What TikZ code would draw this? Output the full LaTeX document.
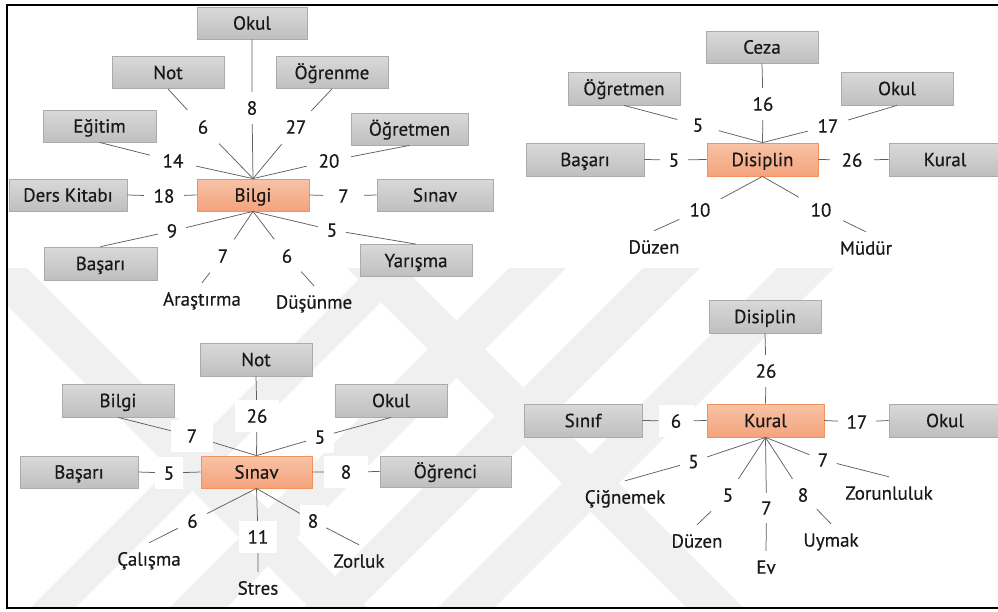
\documentclass[tikz,border=0pt]{standalone}
\usepackage{fontspec}
\setmainfont{PT Sans}[FakeBold=0.5]
\definecolor{boxtop}{HTML}{D9D9D9}
\definecolor{boxbot}{HTML}{BFBFBF}
\definecolor{boxline}{HTML}{ABABAB}
\definecolor{hubtop}{HTML}{F7C3A7}
\definecolor{hubbot}{HTML}{F4A37C}
\definecolor{hubline}{HTML}{F3925C}
\definecolor{linkgray}{HTML}{606060}
\definecolor{wm}{HTML}{F0F0F0}
\tikzset{
  every node/.style={font=\fontsize{19}{22}\selectfont, text=black!90, inner sep=0pt,
    text height=13.3pt, text depth=0pt},
  box/.style={draw=boxline, line width=0.8pt, top color=boxtop, bottom color=boxbot,
    minimum width=112pt, minimum height=32pt},
  hub/.style={draw=hubline, line width=0.8pt, top color=hubtop, bottom color=hubbot,
    minimum width=112pt, minimum height=32pt},
  num/.style={fill=white, minimum width=28pt, minimum height=32pt},
  word/.style={minimum height=32pt},
  link/.style={draw=linkgray, line width=0.75pt},
}
\begin{document}
\begin{tikzpicture}[x=1pt, y=-1pt]
\useasboundingbox (0,0) rectangle (998,611);
\clip (0,0) rectangle (998,611);

% faint striped watermark in the lower half
\begin{scope}
  \clip (7,268) rectangle (998,608);
  % stripes falling to the left
  \foreach \s/\w in {370/45,509/57,643/57,777/57}
    \fill[wm] (\s,268) -- (\s+\w,268) -- (\s+\w-343,611) -- (\s-343,611) -- cycle;
  % stripes falling to the right
  \foreach \s in {-30,347}
    \fill[wm] (\s,268) -- (\s+57,268) -- (\s+57+343,611) -- (\s+343,611) -- cycle;
\end{scope}

% frame
\draw[line width=2pt] (1010,5) -- (7,5) -- (7,608) -- (1010,608);

% ---------- Bilgi ----------
\node[hub] (bilgiA) at (253,195) {Bilgi};
\node[box, minimum width=110pt] (okulA) at (252,23) {Okul};
\node[box] (notA) at (168,72.5) {Not};
\node[box] (ogrenmeA) at (332,72.5) {Öğrenme};
\node[box, minimum width=113pt] (egitimA) at (99.5,126) {Eğitim};
\node[box, minimum width=117pt] (ogretmenA) at (409.5,129) {Öğretmen};
\node[box, minimum width=118pt] (dersA) at (68,195) {Ders Kitabı};
\node[box, minimum width=116pt] (sinavA) at (435,195) {Sınav};
\node[box, minimum width=113pt, minimum height=33pt] (basariA) at (100.5,263.5) {Başarı};
\node[box] (yarismaA) at (416,260.5) {Yarışma};
\node[word] (arastirmaA) at (202,299) {Araştırma};
\node[word] (dusunmeA) at (314,302) {Düşünme};

\node[num, minimum width=30pt] (a1) at (252,108) {8};
\node[num, minimum width=32pt, minimum height=34pt] (a2) at (203,127) {6};
\node[num, minimum width=30pt, minimum height=34pt] (a3) at (296,127) {27};
\node[num, minimum width=46pt] (a4) at (173,161) {14};
\node[num, minimum width=44pt] (a5) at (329,161) {20};
\node[num, minimum width=40pt] (a6) at (164,196) {18};
\node[num, minimum width=41pt] (a7) at (343.5,196) {7};
\node[num] (a8) at (172,231) {9};
\node[num] (a9) at (332,230) {5};
\node[num, minimum height=33pt] (a10) at (223,256) {7};
\node[num, minimum height=33pt] (a11) at (287,256) {6};

\draw[link] (okulA.south) -- (a1) -- (bilgiA.north);
\draw[link] (notA.south) -- (a2) -- (bilgiA.north);
\draw[link] (ogrenmeA.south) -- (a3) -- (bilgiA.north);
\draw[link] (egitimA.south) -- (a4) -- (bilgiA.north);
\draw[link] (ogretmenA.south) -- (a5) -- (bilgiA.north);
\draw[link] (dersA.east) -- (a6) -- (bilgiA.west);
\draw[link] (sinavA.west) -- (a7) -- (bilgiA.east);
\draw[link] (basariA.north) -- (a8) -- (bilgiA.south);
\draw[link] (yarismaA.north) -- (a9) -- (bilgiA.south);
\draw[link] (arastirmaA.north) -- (a10) -- (bilgiA.south);
\draw[link] (dusunmeA.north) -- (a11) -- (bilgiA.south);

% ---------- Disiplin ----------
\node[hub, minimum width=111pt, minimum height=33pt] (disiplinB) at (762.5,159.5) {Disiplin};
\node[box] (cezaB) at (762,47) {Ceza};
\node[box, minimum height=33pt] (ogretmenB) at (624,88.5) {Öğretmen};
\node[box, minimum height=33pt] (okulB) at (897,88.5) {Okul};
\node[box, minimum width=118pt, minimum height=33pt] (basariB) at (585,159.5) {Başarı};
\node[box, minimum height=33pt] (kuralB) at (945,159.5) {Kural};
\node[word] (duzenB) at (654,247) {Düzen};
\node[word] (mudurB) at (866,248) {Müdür};

\node[num, minimum width=30pt] (b1) at (763,104) {16};
\node[num, minimum width=41pt] (b2) at (698,125) {5};
\node[num, minimum width=40pt] (b3) at (828,126) {17};
\node[num] (b4) at (674,160) {5};
\node[num, minimum width=44pt] (b5) at (852,160) {26};
\node[num, minimum width=41pt] (b6) at (700,210) {10};
\node[num, minimum width=44pt] (b7) at (821,210) {10};

\draw[link] (cezaB.south) -- (b1) -- (disiplinB.north);
\draw[link] (ogretmenB.south) -- (b2) -- (disiplinB.north);
\draw[link] (okulB.south) -- (b3) -- (disiplinB.north);
\draw[link] (basariB.east) -- (b4) -- (disiplinB.west);
\draw[link] (kuralB.west) -- (b5) -- (disiplinB.east);
\draw[link] (duzenB.north) -- (b6) -- (disiplinB.south);
\draw[link] (mudurB.north) -- (b7) -- (disiplinB.south);

% ---------- Sınav ----------
\node[hub, minimum width=111pt] (sinavC) at (256.5,472) {Sınav};
\node[box, minimum height=33pt] (notC) at (256,359.5) {Not};
\node[box, minimum height=33pt] (bilgiC) at (118,400.5) {Bilgi};
\node[box, minimum height=33pt] (okulC) at (391,400.5) {Okul};
\node[box, minimum width=118pt] (basariC) at (79,472) {Başarı};
\node[box, minimum width=131pt, minimum height=31pt] (ogrenciC) at (445.5,471.5) {Öğrenci};
\node[word] (calismaC) at (149,559) {Çalışma};
\node[word] (stresC) at (258,588) {Stres};
\node[word] (zorlukC) at (359,561) {Zorluk};

\node[num, minimum width=44pt] (c1) at (257,416) {26};
\node[num, minimum width=42pt] (c2) at (192,436) {7};
\node[num, minimum width=27pt] (c3) at (320,437) {5};
\node[num] (c4) at (169,473) {5};
\node[num, minimum width=44pt] (c5) at (346,472) {8};
\node[num, minimum width=29pt] (c6) at (192.5,521) {6};
\node[num, minimum width=38pt] (c7) at (258,537) {11};
\node[num, minimum width=26pt] (c8) at (313,521) {8};

\draw[link] (notC.south) -- (c1) -- (sinavC.north);
\draw[link] (bilgiC.south) -- (c2) -- (sinavC.north);
\draw[link] (okulC.south) -- (c3) -- (sinavC.north);
\draw[link] (basariC.east) -- (c4) -- (sinavC.west);
\draw[link] (ogrenciC.west) -- (c5) -- (sinavC.east);
\draw[link] (calismaC.north) -- (c6) -- (sinavC.south);
\draw[link] (stresC.north) -- (c7) -- (sinavC.south);
\draw[link] (zorlukC.north) -- (c8) -- (sinavC.south);

% ---------- Kural ----------
\node[hub, minimum width=117pt, minimum height=33pt] (kuralD) at (765.5,420.5) {Kural};
\node[box, minimum height=33pt] (disiplinD) at (765,316.5) {Disiplin};
\node[box, minimum width=118pt, minimum height=33pt] (sinifD) at (583,420.5) {Sınıf};
\node[box, minimum height=33pt] (okulD) at (945,420.5) {Okul};
\node[word] (cignemekD) at (625,497) {Çiğnemek};
\node[word] (duzenD) at (697,541) {Düzen};
\node[word] (evD) at (766,567) {Ev};
\node[word] (uymakD) at (831,540) {Uymak};
\node[word] (zorunlulukD) at (889,493) {Zorunluluk};

\node[num, minimum width=36pt] (d1) at (766,371) {26};
\node[num, minimum width=35pt] (d2) at (676,421) {6};
\node[num, minimum width=38pt] (d3) at (857,422) {17};
\node[num, minimum width=27pt, minimum height=31pt] (d4) at (693.5,461.5) {5};
\node[num, minimum width=50pt] (d5) at (728,495) {5};
\node[num, minimum width=27pt, minimum height=30pt] (d6) at (766.5,508) {7};
\node[num, minimum width=27pt] (d7) at (803,495) {8};
\node[num, minimum width=27pt] (d8) at (823,460) {7};

\draw[link] (disiplinD.south) -- (d1) -- (kuralD.north);
\draw[link] (sinifD.east) -- (d2) -- (kuralD.west);
\draw[link] (okulD.west) -- (d3) -- (kuralD.east);
\draw[link] (cignemekD.north) -- (d4) -- (kuralD.south);
\draw[link] (duzenD.north) -- (d5) -- (kuralD.south);
\draw[link] (evD.north) -- (d6) -- (kuralD.south);
\draw[link] (uymakD.north) -- (d7) -- (kuralD.south);
\draw[link] (zorunlulukD.north) -- (d8) -- (kuralD.south);
\end{tikzpicture}
\end{document}
